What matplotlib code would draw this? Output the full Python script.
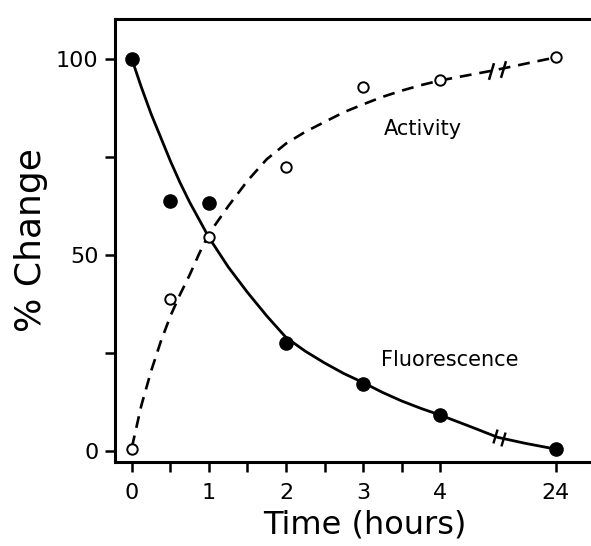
"""Fluorescence vs activity, % change over time (broken x axis at 4 h -> 24 h)."""
import matplotlib
matplotlib.use("Agg")
import matplotlib.pyplot as plt

plt.rcParams.update({"font.family": "DejaVu Sans", "savefig.dpi": 100})

# measured points; 24 h sits after the axis break at position 5.5
time_pos = [0, 0.5, 1, 2, 3, 4, 5.5]
fluorescence = [100, 63.8, 63.3, 27.7, 17.2, 9.2, 0.5]
activity = [0.5, 38.7, 54.6, 72.6, 93.0, 94.6, 100.5]

# hand-drawn curves (axis positions)
fl_curve_x = [0, 0.12, 0.25, 0.375, 0.5, 0.625, 0.75, 0.875, 1.0, 1.25, 1.5, 1.75,
              2.0, 2.25, 2.5, 2.75, 3.0, 3.25, 3.5, 3.75, 4.0, 4.4, 4.75, 5.1, 5.5]
fl_curve_y = [100, 93, 86, 80, 74, 68.5, 63.5, 59, 54.5, 47, 40.5, 34.5,
              29, 25.5, 22.5, 19.8, 17.5, 15, 12.8, 10.9, 9.2, 6.2, 3.5, 2.0, 0.5]
ac_curve_x = [0, 0.12, 0.25, 0.375, 0.5, 0.625, 0.75, 0.875, 1.0, 1.25, 1.5, 1.75,
              2.0, 2.25, 2.5, 2.75, 3.0, 3.25, 3.5, 3.75, 4.0, 4.7, 5.5]
ac_curve_y = [1, 11.5, 20.5, 28, 34.5, 40, 45, 50.5, 55.5, 62.5, 69, 74.5,
              78.5, 81.5, 84, 86.5, 88.5, 90.4, 92, 93.4, 94.6, 97.2, 100.5]

# break marks on the curves
fl_break_x = [4.71, 4.82]
fl_break_y = [3.9, 3.2]
ac_break_x = [4.66, 4.82]
ac_break_y = [97.0, 97.6]

xtick_pos = [0, 1, 2, 3, 4, 5.5]
xtick_labels = ["0", "1", "2", "3", "4", "24"]
xminor_pos = [0.5, 1.5, 2.5, 3.5]

fig = plt.figure(figsize=(5.91, 5.46), dpi=100)
ax = fig.add_axes([0.1946, 0.1538, 0.8054, 0.8114])

ax.plot(fl_curve_x, fl_curve_y, color="black", lw=2.0, solid_capstyle="round")
ax.plot(ac_curve_x, ac_curve_y, color="black", lw=1.9, ls=(0, (4.5, 3)))
ax.plot(time_pos, fluorescence, "o", color="black", ms=9.5, zorder=3)
ax.plot(time_pos, activity, "o", mfc="white", mec="black", mew=1.4, ms=7.5, zorder=3)

slash = [(-0.3, -1), (0.3, 1)]
ax.plot(fl_break_x, fl_break_y, ls="none", marker=slash, ms=10, mec="black", mew=1.7)
ax.plot(ac_break_x, ac_break_y, ls="none", marker=slash, ms=12, mec="black", mew=1.8)

ax.text(3.78, 82.3, "Activity", ha="center", va="center", fontsize=15)
ax.text(4.13, 23.3, "Fluorescence", ha="center", va="center", fontsize=15)

ax.set_xlim(-0.22, 5.96)
ax.set_ylim(-2.8, 110.3)
ax.set_xticks(xtick_pos)
ax.set_xticklabels(xtick_labels)
ax.set_xticks(xminor_pos, minor=True)
ax.set_yticks([0, 50, 100])
ax.set_yticks([25, 75], minor=True)

for side in ("left", "top", "bottom"):
    ax.spines[side].set_linewidth(2.2)
ax.spines["right"].set_visible(False)

ax.tick_params(which="both", direction="out", length=7, width=1.8)
ax.tick_params(axis="x", which="major", pad=8, labelsize=16)
ax.tick_params(axis="y", which="major", pad=5, labelsize=16)

ax.set_xlabel("Time (hours)", fontsize=23, va="center")
ax.xaxis.set_label_coords(0.525, -0.142)
ax.set_ylabel("% Change", fontsize=26, va="center")
ax.yaxis.set_label_coords(-0.176, 0.5)

fig.savefig("out.png")
